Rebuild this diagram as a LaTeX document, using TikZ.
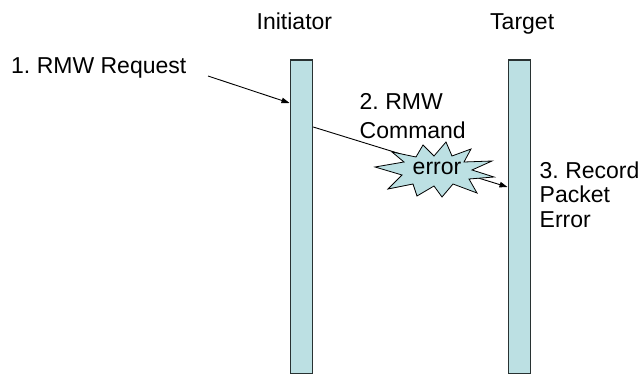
\documentclass[tikz,border=0pt]{standalone}
\usepackage{fontspec}
\setmainfont{Liberation Sans}
\usetikzlibrary{arrows.meta}
\definecolor{barfill}{RGB}{188,224,227}
\definecolor{barline}{RGB}{40,50,50}
\frenchspacing
\begin{document}
\begin{tikzpicture}[x=1pt,y=-1pt,
  lbl/.style={font=\fontsize{23}{27}\selectfont, inner sep=0pt, anchor=base west},
  lifeline/.style={draw=barline, fill=barfill, line width=1.2pt, minimum width=22.5pt, minimum height=313.5pt, inner sep=0pt, anchor=north west},
  arr/.style={line width=0.9pt, -{Triangle[length=8pt,width=5.5pt]}},
  burst/.style={draw=black, fill=barfill, line width=0.8pt}]
\useasboundingbox (0,0) rectangle (643,374);
% lifelines
\node[lifeline] (ini) at (289.5,59.5) {};
\node[lifeline] (tgt) at (507.5,59.5) {};
% labels
\node[lbl] (tini) at (256.5,30) {Initiator};
\node[lbl] (ttgt) at (490,30) {Target};
\node[lbl] (t1) at (11,73.5) {1. RMW Request};
\node[lbl] (t2a) at (359.5,110) {2. RMW};
\node[lbl] (t2b) at (359.5,138.5) {Command};
\node[lbl] (t3a) at (539.5,179) {3. Record};
\node[lbl] (t3b) at (539.5,203) {Packet};
\node[lbl] (t3c) at (539.5,227.5) {Error};
% arrows
\coordinate (req) at (208,76);
\draw[arr] (req) -- (ini.west |- 0,103);
\draw[arr] (ini.east |- 0,127) -- (tgt.west |- 0,187);
% burst
\begin{scope}[shift={(434,170)}]
\draw[burst] (-59,-3) -- (-30,-8) -- (-42,-18) -- (-18,-13) -- (-11,-25) -- (0,-14)
  -- (12,-28) -- (18,-14) -- (37,-21) -- (30,-8) -- (58,-9) -- (38,0)
  -- (60,7) -- (35,9) -- (43,23) -- (19,14) -- (8,27) -- (0,16)
  -- (-17,26) -- (-21,14) -- (-46,19) -- (-32,5) -- cycle;
\end{scope}
\node[font=\fontsize{23}{27}\selectfont, inner sep=0pt] (err) at (437,168) {error};
\end{tikzpicture}
\end{document}
